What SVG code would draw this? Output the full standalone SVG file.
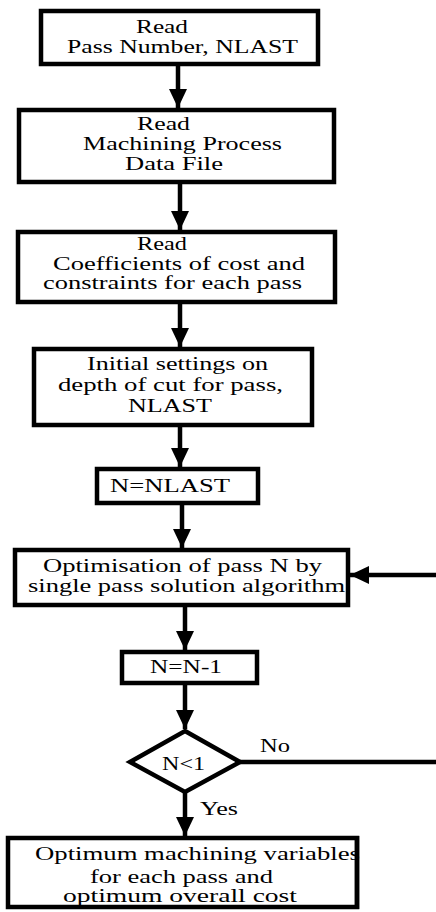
<svg xmlns="http://www.w3.org/2000/svg" width="436" height="912" viewBox="0 0 436 912">
<style>
.box{fill:#fff;stroke:#000;stroke-width:4.5}
.t{font-family:"Liberation Serif","Times New Roman",serif;font-size:19px;fill:#000}
.c{stroke:#000;stroke-width:4.5;fill:none}
</style>
<defs>
<marker id="ah" markerUnits="userSpaceOnUse" markerWidth="19" markerHeight="18" refX="19" refY="9" orient="auto">
<path d="M0,0 L19,9 L0,18 z" fill="#000"/>
</marker>
</defs>
<rect width="436" height="912" fill="#fff"/>
<g id="connectors">
<line class="c" x1="178" y1="64" x2="178" y2="108" marker-end="url(#ah)"/>
<line class="c" x1="180" y1="182" x2="180" y2="230" marker-end="url(#ah)"/>
<line class="c" x1="180" y1="302" x2="180" y2="347" marker-end="url(#ah)"/>
<line class="c" x1="180" y1="425" x2="180" y2="467" marker-end="url(#ah)"/>
<line class="c" x1="182" y1="503" x2="182" y2="548" marker-end="url(#ah)"/>
<line class="c" x1="185" y1="605" x2="185" y2="650" marker-end="url(#ah)"/>
<line class="c" x1="185" y1="683" x2="185" y2="729" marker-end="url(#ah)"/>
<line class="c" x1="185" y1="792" x2="185" y2="836" marker-end="url(#ah)"/>
<line class="c" x1="240" y1="762" x2="436" y2="762"/>
<line class="c" x1="436" y1="575" x2="350" y2="575" marker-end="url(#ah)"/>
<text class="t" x="260" y="752" textLength="30" lengthAdjust="spacingAndGlyphs">No</text>
<text class="t" x="200" y="815" textLength="38" lengthAdjust="spacingAndGlyphs">Yes</text>
</g>
<g id="n1">
<rect class="box" x="41" y="11" width="277" height="53"/>
<text class="t" x="136" y="33" textLength="52" lengthAdjust="spacingAndGlyphs">Read</text>
<text class="t" x="67" y="53" textLength="231" lengthAdjust="spacingAndGlyphs">Pass Number, NLAST</text>
</g>
<g id="n2">
<rect class="box" x="19" y="110" width="315" height="72"/>
<text class="t" x="137" y="130" textLength="53" lengthAdjust="spacingAndGlyphs">Read</text>
<text class="t" x="83" y="150" textLength="199" lengthAdjust="spacingAndGlyphs">Machining Process</text>
<text class="t" x="125" y="170" textLength="98" lengthAdjust="spacingAndGlyphs">Data File</text>
</g>
<g id="n3">
<rect class="box" x="18" y="232" width="317" height="70"/>
<text class="t" x="137" y="250" textLength="50" lengthAdjust="spacingAndGlyphs">Read</text>
<text class="t" x="53" y="270" textLength="252" lengthAdjust="spacingAndGlyphs">Coefficients of cost and</text>
<text class="t" x="43" y="289" textLength="259" lengthAdjust="spacingAndGlyphs">constraints for each pass</text>
</g>
<g id="n4">
<rect class="box" x="34" y="349" width="278" height="76"/>
<text class="t" x="87" y="370" textLength="181" lengthAdjust="spacingAndGlyphs">Initial settings on</text>
<text class="t" x="58" y="391" textLength="225" lengthAdjust="spacingAndGlyphs">depth of cut for pass,</text>
<text class="t" x="128" y="412" textLength="84" lengthAdjust="spacingAndGlyphs">NLAST</text>
</g>
<g id="n5">
<rect class="box" x="97" y="469" width="161" height="34"/>
<text class="t" x="110" y="492" textLength="120" lengthAdjust="spacingAndGlyphs">N=NLAST</text>
</g>
<g id="n6">
<rect class="box" x="15" y="550" width="333" height="55"/>
<text class="t" x="43" y="572" textLength="279" lengthAdjust="spacingAndGlyphs">Optimisation of pass N by</text>
<text class="t" x="28" y="592" textLength="317" lengthAdjust="spacingAndGlyphs">single pass solution algorithm</text>
</g>
<g id="n7">
<rect class="box" x="122" y="652" width="135" height="31"/>
<text class="t" x="150" y="673" textLength="72" lengthAdjust="spacingAndGlyphs">N=N-1</text>
</g>
<g id="n8">
<polygon class="box" points="185,731 240,762 185,792 130,762"/>
<text class="t" x="162" y="770" textLength="43" lengthAdjust="spacingAndGlyphs">N&lt;1</text>
</g>
<g id="n9">
<rect class="box" x="8" y="838" width="349" height="69"/>
<text class="t" x="35" y="860" textLength="325" lengthAdjust="spacingAndGlyphs">Optimum machining variables</text>
<text class="t" x="90" y="883" textLength="183" lengthAdjust="spacingAndGlyphs">for each pass and</text>
<text class="t" x="63" y="902" textLength="234" lengthAdjust="spacingAndGlyphs">optimum overall cost</text>
<line x1="357" y1="836" x2="357" y2="909" stroke="#000" stroke-width="4.5"/>
</g>
</svg>
